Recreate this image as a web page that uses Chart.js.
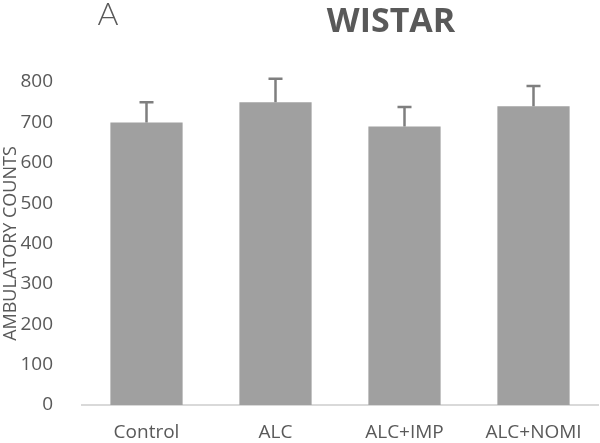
<!DOCTYPE html>
<html>
<head>
<meta charset="utf-8">
<script src="https://cdn.jsdelivr.net/npm/chart.js@4/dist/chart.umd.min.js"></script>
<style>
  html, body { margin: 0; padding: 0; background: #fff; }
  #wrap { width: 600px; height: 443px; }
</style>
</head>
<body>
<div id="wrap"><canvas id="wistarChart"></canvas></div>
<script>
// data
const groups = ["Control", "ALC", "ALC+IMP", "ALC+NOMI"];
const counts = [700, 750, 690, 740];
const errors = [50, 58, 48, 50];
const yTicks = [0, 100, 200, 300, 400, 500, 600, 700, 800];

const textGray = "#595959";
const fontName = "'Open Sans', Lato, sans-serif";

// error bar + titles
const extrasPlugin = {
  id: "extras",
  afterDatasetsDraw(chart) {
    const ctx = chart.ctx;
    const meta = chart.getDatasetMeta(0);
    const y = chart.scales.y;
    ctx.save();
    ctx.strokeStyle = "#7f7f7f";
    ctx.lineWidth = 2.5;
    meta.data.forEach((bar, i) => {
      const top = y.getPixelForValue(counts[i] + errors[i]);
      ctx.beginPath();
      ctx.moveTo(bar.x, bar.y);
      ctx.lineTo(bar.x, top);
      ctx.moveTo(bar.x - 7, top);
      ctx.lineTo(bar.x + 7, top);
      ctx.stroke();
    });
    ctx.restore();
  },
  afterDraw(chart) {
    const ctx = chart.ctx;
    ctx.save();
    ctx.fillStyle = textGray;
    ctx.textBaseline = "middle";
    ctx.textAlign = "center";
    ctx.font = "bold 34px " + fontName;
    ctx.fillText("WISTAR", 391, 22);
    ctx.font = "300 32px Lato, sans-serif";
    ctx.fillText("A", 108, 15);
    ctx.restore();
  },
};

const config = {
  type: "bar",
  data: {
    labels: groups,
    datasets: [
      {
        label: "Ambulatory counts",
        data: counts,
        backgroundColor: "#a0a0a0",
        borderWidth: 0,
        barPercentage: 0.56,
        categoryPercentage: 1,
      },
    ],
  },
  options: {
    responsive: true,
    maintainAspectRatio: false,
    animation: false,
    layout: {
      padding: { top: 82, left: 0, right: 2, bottom: 0 },
    },
    plugins: {
      legend: { display: false },
      tooltip: { enabled: false },
    },
    scales: {
      x: {
        grid: { display: false },
        border: { display: true, color: "#d9d9d9", width: 2 },
        afterFit(scale) {
          scale.height = 38;
        },
        ticks: {
          color: textGray,
          font: { family: fontName, size: 19 },
          padding: 8,
        },
      },
      y: {
        min: 0,
        max: 800,
        grid: { display: false },
        border: { display: false },
        afterBuildTicks(scale) {
          scale.ticks = yTicks.map((v) => ({ value: v }));
        },
        afterFit(scale) {
          scale.width = 82;
        },
        ticks: {
          color: textGray,
          font: { family: fontName, size: 19 },
          padding: 21,
        },
        title: {
          display: true,
          text: "AMBULATORY COUNTS",
          color: textGray,
          font: { family: fontName, size: 18 },
          padding: 0,
        },
      },
    },
  },
  plugins: [extrasPlugin],
};

const wistarChart = new Chart(document.getElementById("wistarChart"), config);
</script>
</body>
</html>
